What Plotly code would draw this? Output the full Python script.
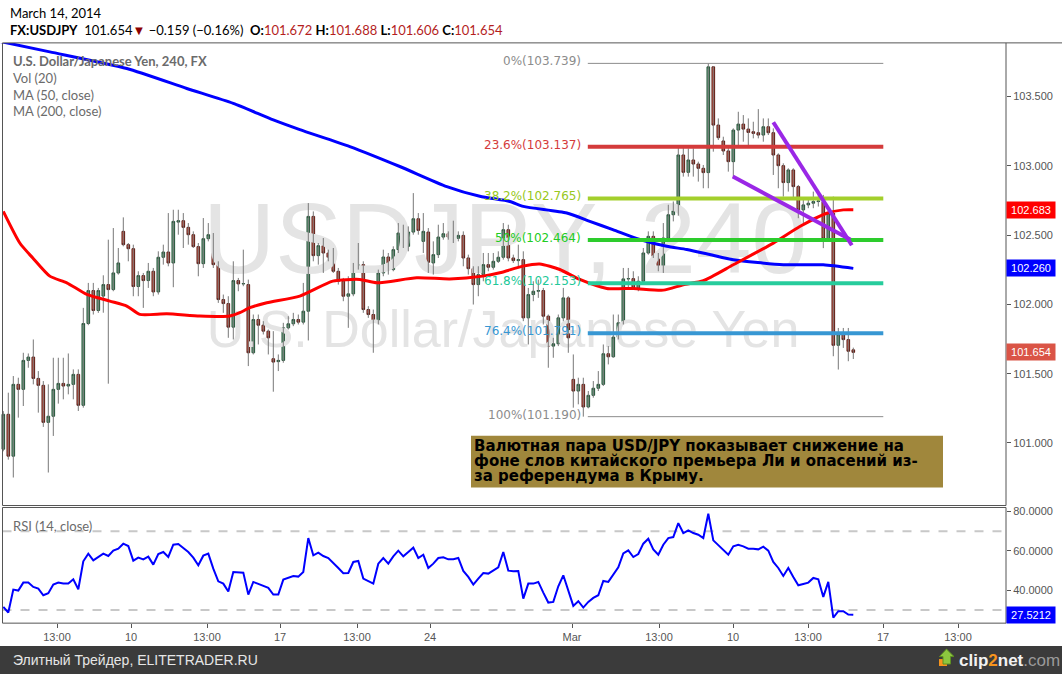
import plotly.graph_objects as go

W, H = 1062, 674

# USDJPY 4h candles (bar 0 = first visible candle)
opens = [
    100.955, 101.207, 100.905, 101.423, 101.387, 101.596, 101.620, 101.466, 101.416, 101.149,
    101.193, 101.387, 101.430, 101.411, 101.423, 101.495, 101.272, 101.862, 102.100, 101.956,
    102.060, 102.143, 102.107, 102.227, 102.527, 102.431, 102.402, 102.129, 102.208, 102.172,
    102.239, 102.090, 102.340, 102.378, 102.299, 102.594, 102.604, 102.556, 102.503, 102.417,
    102.294, 102.474, 102.503, 102.287, 102.035, 102.006, 101.836, 102.172, 102.148, 102.143,
    101.651, 101.891, 101.850, 101.807, 101.608, 101.587, 101.596, 101.831, 101.860, 101.891,
    101.872, 101.951, 102.635, 102.352, 102.424, 102.371, 102.340, 102.239, 102.167, 102.059,
    102.076, 102.263, 102.287, 101.963, 101.927, 101.872, 102.227, 102.342, 102.251, 102.395,
    102.515, 102.419, 102.522, 102.618, 102.455, 102.522, 102.299, 102.359, 102.486, 102.510,
    102.486, 102.477, 102.498, 102.335, 102.258, 102.143, 102.215, 102.287, 102.268, 102.311,
    102.340, 102.539, 102.335, 102.316, 102.323, 101.903, 102.071, 102.095, 102.100, 101.915,
    101.699, 101.716, 101.903, 102.047, 101.459, 101.375, 101.423, 101.260, 101.344, 101.395,
    101.423, 101.644, 101.622, 101.764, 101.867, 102.184, 102.186, 102.119, 102.167, 102.371,
    102.491, 102.347, 102.275, 102.479, 102.647, 102.676, 103.078, 102.953, 103.042, 103.013,
    102.982, 102.951, 103.714, 103.294, 103.179, 103.107, 103.030, 103.258, 103.301, 103.265,
    103.246, 103.239, 103.222, 103.282, 103.239, 103.078, 103.001, 102.879, 102.970, 102.850,
    102.682, 102.718, 102.730, 102.742, 102.742, 102.473, 102.658, 101.705, 101.782, 101.746,
    101.672,
]
highs = [
    101.230, 101.363, 101.483, 101.471, 101.651, 101.646, 101.747, 101.519, 101.447, 101.423,
    101.615, 101.615, 101.615, 101.646, 101.531, 101.531, 101.975, 102.155, 102.155, 102.119,
    102.210, 102.467, 102.551, 102.407, 102.628, 102.443, 102.431, 102.239, 102.227, 102.299,
    102.263, 102.383, 102.431, 102.659, 102.683, 102.683, 102.659, 102.587, 102.527, 102.443,
    102.623, 102.587, 102.515, 102.311, 102.071, 102.059, 102.311, 102.191, 102.395, 102.179,
    101.927, 101.927, 101.879, 101.819, 101.807, 101.639, 101.867, 101.915, 101.939, 101.927,
    102.155, 102.731, 102.671, 102.443, 102.479, 102.395, 102.407, 102.263, 102.191, 102.203,
    102.299, 102.443, 102.311, 101.987, 101.963, 102.251, 102.395, 102.371, 102.419, 102.587,
    102.575, 102.563, 102.803, 102.659, 102.659, 102.551, 102.455, 102.575, 102.587, 102.527,
    102.604, 102.527, 102.527, 102.359, 102.275, 102.275, 102.371, 102.371, 102.371, 102.383,
    102.587, 102.575, 102.359, 102.431, 102.383, 102.119, 102.167, 102.179, 102.119, 101.927,
    101.759, 101.927, 102.119, 102.059, 101.639, 101.471, 101.471, 101.375, 101.447, 101.519,
    101.711, 101.699, 101.927, 101.927, 102.263, 102.263, 102.239, 102.203, 102.407, 102.527,
    102.527, 102.371, 102.587, 102.719, 102.743, 103.150, 103.150, 103.126, 103.126, 103.030,
    103.006, 103.739, 103.720, 103.342, 103.210, 103.138, 103.270, 103.390, 103.366, 103.342,
    103.318, 103.409, 103.342, 103.342, 103.270, 103.090, 103.018, 102.982, 102.982, 102.862,
    102.766, 102.754, 102.814, 102.790, 102.790, 102.682, 102.778, 101.830, 101.830, 101.830,
    101.688,
]
lows = [
    100.940, 100.880, 100.751, 101.183, 101.267, 101.543, 101.423, 101.219, 101.116, 100.787,
    101.051, 101.284, 101.315, 101.351, 101.315, 101.231, 101.255, 101.850, 101.927, 101.939,
    101.940, 101.428, 102.095, 102.215, 102.419, 102.311, 102.059, 102.059, 101.975, 102.119,
    102.059, 102.071, 102.287, 102.275, 102.124, 102.503, 102.407, 102.431, 102.407, 102.203,
    102.263, 102.455, 102.263, 102.011, 101.939, 101.759, 101.747, 102.095, 102.131, 101.555,
    101.639, 101.711, 101.783, 101.639, 101.370, 101.519, 101.579, 101.819, 101.843, 101.855,
    101.855, 101.740, 102.311, 102.287, 102.227, 102.311, 102.227, 102.143, 102.023, 101.831,
    102.059, 102.251, 101.939, 101.903, 101.651, 101.855, 102.203, 102.215, 102.239, 102.371,
    102.407, 102.383, 102.503, 102.503, 102.371, 102.227, 102.215, 102.335, 102.467, 102.467,
    102.443, 102.455, 102.275, 102.215, 101.999, 102.059, 102.167, 102.239, 102.251, 102.299,
    102.323, 102.311, 102.299, 102.263, 101.879, 101.711, 102.023, 102.047, 101.855, 101.543,
    101.615, 101.699, 101.879, 101.651, 101.255, 101.279, 101.190, 101.250, 101.327, 101.375,
    101.411, 101.567, 101.615, 101.747, 101.855, 102.119, 102.107, 102.095, 102.155, 102.359,
    102.335, 102.239, 102.227, 102.455, 102.599, 102.640, 102.922, 102.922, 102.922, 102.886,
    102.838, 102.838, 103.102, 103.186, 103.078, 102.958, 102.910, 103.150, 103.174, 103.150,
    103.198, 103.198, 103.174, 103.222, 102.934, 102.838, 102.778, 102.814, 102.766, 102.622,
    102.574, 102.694, 102.694, 102.706, 102.406, 102.454, 101.626, 101.530, 101.686, 101.590,
    101.606,
]
closes = [
    101.207, 100.905, 101.423, 101.387, 101.596, 101.620, 101.466, 101.416, 101.149, 101.193,
    101.387, 101.430, 101.411, 101.423, 101.495, 101.272, 101.862, 102.100, 101.956, 102.100,
    102.143, 102.107, 102.227, 102.299, 102.431, 102.402, 102.129, 102.208, 102.172, 102.239,
    102.090, 102.340, 102.378, 102.299, 102.599, 102.604, 102.556, 102.503, 102.417, 102.294,
    102.474, 102.503, 102.287, 102.035, 102.006, 101.836, 102.172, 102.148, 102.150, 101.651,
    101.891, 101.850, 101.807, 101.759, 101.584, 101.596, 101.831, 101.860, 101.891, 101.872,
    101.951, 102.635, 102.352, 102.424, 102.371, 102.340, 102.239, 102.167, 102.059, 102.076,
    102.263, 102.287, 101.963, 101.927, 101.872, 102.227, 102.342, 102.251, 102.395, 102.515,
    102.419, 102.522, 102.618, 102.534, 102.527, 102.304, 102.359, 102.486, 102.510, 102.486,
    102.477, 102.498, 102.335, 102.258, 102.143, 102.215, 102.287, 102.268, 102.311, 102.340,
    102.539, 102.335, 102.316, 102.323, 101.903, 102.071, 102.095, 102.100, 101.915, 101.699,
    101.716, 101.903, 102.047, 101.759, 101.375, 101.423, 101.260, 101.344, 101.395, 101.423,
    101.644, 101.622, 101.764, 101.867, 102.184, 102.186, 102.119, 102.167, 102.371, 102.491,
    102.347, 102.275, 102.479, 102.647, 102.676, 103.078, 102.953, 103.042, 103.013, 102.982,
    102.951, 103.714, 103.294, 103.203, 103.107, 103.030, 103.258, 103.301, 103.265, 103.241,
    103.234, 103.222, 103.282, 103.239, 103.078, 103.001, 102.879, 102.970, 102.850, 102.682,
    102.718, 102.730, 102.742, 102.746, 102.473, 102.658, 101.705, 101.782, 101.746, 101.662,
    101.654,
]

# moving averages (bar position, value)
ma50_bar = [0, 3.3, 5.9, 9.3, 12.7, 16.7, 21.3, 24.7, 27.3, 32.7, 39.3, 45.3, 47.3, 49.3,
            52.7, 59.3, 65.9, 71.3, 74.7, 82.7, 89.3, 95.9, 99.3, 103.9, 107.3, 111.3,
            115.3, 120.7, 126.0, 132.0, 136.0, 140.0, 146.0, 154.0, 159.3, 164.7, 168.0, 170.0]
ma50_val = [102.671, 102.443, 102.335, 102.204, 102.156, 102.072, 102.024, 101.988, 101.928,
            101.932, 101.916, 101.916, 101.940, 101.976, 102.012, 102.060, 102.168, 102.180,
            102.156, 102.192, 102.184, 102.204, 102.228, 102.276, 102.292, 102.252, 102.180,
            102.115, 102.115, 102.103, 102.142, 102.171, 102.286, 102.442, 102.562, 102.658,
            102.682, 102.683]
ma200_bar = [-1, 9.3, 24.7, 36.7, 46.0, 54.0, 59.3, 69.3, 79.3, 88.7, 95.3, 101.3, 104.0,
             112.7, 117.3, 121.9, 127.3, 132.7, 136.7, 141.3, 146.0, 156.0, 164.0, 170.0]
ma200_val = [103.900, 103.822, 103.702, 103.558, 103.450, 103.331, 103.261, 103.139, 102.995,
             102.850, 102.780, 102.743, 102.707, 102.659, 102.599, 102.540, 102.468, 102.419,
             102.396, 102.360, 102.322, 102.286, 102.286, 102.260]

rsi = [
    31.56, 28.69, 40.33, 39.83, 43.88, 43.88, 41.68, 40.84, 37.46, 38.48,
    42.87, 43.88, 43.37, 43.37, 45.57, 40.50, 54.68, 58.56, 55.19, 56.71,
    58.56, 57.38, 60.08, 61.10, 63.63, 62.45, 55.02, 56.54, 55.69, 57.04,
    52.99, 58.40, 59.41, 56.88, 63.12, 63.46, 61.60, 59.41, 56.54, 52.66,
    57.55, 58.56, 50.97, 44.55, 43.37, 39.32, 49.28, 49.11, 48.94, 37.80,
    44.22, 43.20, 42.19, 41.18, 37.80, 37.80, 45.40, 46.24, 47.25, 46.92,
    49.28, 66.50, 57.72, 59.07, 57.38, 56.37, 54.01, 51.31, 48.60, 48.77,
    54.34, 54.85, 45.90, 44.72, 43.37, 53.50, 56.37, 53.50, 57.21, 60.08,
    57.21, 59.41, 61.60, 56.37, 58.06, 51.31, 53.50, 56.37, 56.71, 55.69,
    55.69, 56.37, 49.79, 46.75, 42.87, 45.90, 48.77, 48.44, 50.12, 51.64,
    59.41, 49.96, 49.62, 49.79, 35.78, 43.37, 43.37, 44.22, 38.81, 33.75,
    34.09, 42.02, 47.59, 39.49, 32.06, 34.43, 31.22, 34.09, 36.11, 37.46,
    44.72, 44.22, 48.10, 51.64, 58.73, 60.25, 56.88, 58.40, 63.63, 66.16,
    60.76, 58.06, 63.12, 66.50, 67.00, 74.09, 69.03, 70.38, 69.03, 68.19,
    66.50, 78.82, 65.32, 62.78, 60.25, 58.06, 62.28, 63.12, 62.28, 61.10,
    61.10, 60.76, 62.11, 60.08, 54.34, 51.31, 47.25, 51.31, 46.75, 42.53,
    43.20, 43.88, 46.24, 45.57, 36.62, 44.22, 26.15, 29.36, 29.36, 27.67,
    27.5212,
]

# Fibonacci retracement drawn on the chart
fib_pct = ["0%", "23.6%", "38.2%", "50%", "61.8%", "76.4%", "100%"]
fib_lvl = [103.739, 103.137, 102.765, 102.464, 102.153, 101.791, 101.190]
fib_start, fib_end = 116.9, 176.0

# purple trend lines (bar, price)
trend_bar = [[154.0, 169.7], [145.9, 169.4]]
trend_val = [[103.314, 102.427], [102.923, 102.468]]

time_ticks = [10.74, 25.54, 40.74, 55.34, 70.74, 85.34, 113.74, 131.14, 145.94, 160.94, 175.94, 190.94]
time_labels = ["13:00", "10", "13:00", "17", "13:00", "24", "Mar", "13:00", "10", "13:00", "17", "13:00"]

price_ticks = [101.0, 101.5, 102.0, 102.5, 103.0, 103.5]
rsi_ticks = [40, 60, 80]

# ---- layout helpers (pixel -> paper) ----
PLOT_R = 1006
TOP, PB, RT, RB = 41, 505, 507, 623
X0, X1 = -0.66, 200.54
P0, P1 = 100.549, 103.887
R0, R1 = 23.3, 82.0


def px(x):
    return x / W


def py(y):
    return 1 - y / H


def bar_at(xp):
    return X0 + xp / PLOT_R * (X1 - X0)


def price_at(yp):
    return P1 - (yp - TOP) / (PB - TOP) * (P1 - P0)


fib_col = ["#8c8c8c", "#d43b3b", "#a3cf2c", "#2dcc2d", "#27cc9c", "#3797d3", "#8c8c8c"]
fib_txt = ["#8c8c8c", "#d43b3b", "#98c820", "#22cc22", "#22c898", "#3797d3", "#8c8c8c"]
GREY = "#555555"

bars = list(range(len(closes)))
body_hi = [max(o, c) for o, c in zip(opens, closes)]
body_lo = [min(o, c) for o, c in zip(opens, closes)]
wick_x, wick_y = [], []
for i, (h, l) in enumerate(zip(highs, lows)):
    wick_x += [i, i, None]
    wick_y += [l, h, None]

fig = go.Figure()

# watermark (under the candles)
fig.add_trace(go.Scatter(
    x=[bar_at(505), bar_at(503)], y=[price_at(247), price_at(333)],
    mode="text", text=["USDJPY, 240", "U.S. Dollar/Japanese Yen"],
    textfont=dict(family="Liberation Sans", size=[100, 52], color="#e4e4e4"),
    textposition="middle center", hoverinfo="skip",
))

fig.add_trace(go.Scatter(
    x=wick_x, y=wick_y, mode="lines",
    line=dict(color="#777777", width=1), hoverinfo="skip",
))
fig.add_trace(go.Candlestick(
    x=bars, open=opens, high=body_hi, low=body_lo, close=closes,
    increasing=dict(fillcolor="#6ba583", line=dict(color="#225437", width=1)),
    decreasing=dict(fillcolor="#d75442", line=dict(color="#5b1a13", width=1)),
    whiskerwidth=0, hoverinfo="skip",
))
fig.add_trace(go.Scatter(
    x=ma200_bar, y=ma200_val, mode="lines",
    line=dict(color="#0000ff", width=3, shape="spline", smoothing=0.6),
))
fig.add_trace(go.Scatter(
    x=ma50_bar, y=ma50_val, mode="lines",
    line=dict(color="#ff0000", width=3, shape="spline", smoothing=0.6),
))
fig.add_trace(go.Scatter(
    x=bars, y=rsi, mode="lines", xaxis="x2", yaxis="y2",
    line=dict(color="#0000ff", width=2),
))

shapes = []
# panel frames
for y0, y1 in [(TOP, PB), (RT, RB)]:
    shapes.append(dict(type="rect", xref="paper", yref="paper",
                       x0=px(2.5), x1=px(PLOT_R), y0=py(y1), y1=py(y0),
                       line=dict(color=GREY, width=1), layer="above"))
shapes.append(dict(type="line", xref="paper", yref="paper", x0=px(PLOT_R), x1=1,
                   y0=py(TOP), y1=py(TOP), line=dict(color=GREY, width=1)))
# RSI bands
for lv in [70, 30]:
    shapes.append(dict(type="line", xref="paper", yref="y2", x0=px(2.5), x1=px(PLOT_R),
                       y0=lv, y1=lv, line=dict(color="#c8c8c8", width=2, dash="dash"),
                       layer="below"))
# fibonacci lines
for lv, col in zip(fib_lvl, fib_col):
    thin = col == "#8c8c8c"
    shapes.append(dict(type="line", xref="x", yref="y", x0=fib_start, x1=fib_end,
                       y0=lv, y1=lv, line=dict(color=col, width=1 if thin else 4)))
# trend lines
for bx, bv in zip(trend_bar, trend_val):
    shapes.append(dict(type="line", xref="x", yref="y", x0=bx[0], x1=bx[1],
                       y0=bv[0], y1=bv[1], line=dict(color="#9a27e6", width=4)))
# comment box
shapes.append(dict(type="rect", xref="paper", yref="paper", x0=px(471), x1=px(943),
                   y0=py(487), y1=py(435), fillcolor="#a0873c", line=dict(width=0)))
# footer
shapes.append(dict(type="rect", xref="paper", yref="paper", x0=0, x1=1,
                   y0=0, y1=py(646), fillcolor="#3b3b3b", line=dict(width=0)))
# clip2net icon
shapes.append(dict(type="rect", xref="paper", yref="paper", x0=px(939), x1=px(947),
                   y0=py(666), y1=py(659), fillcolor="#f7941d", line=dict(width=0)))
arrow = [(946.5, 649), (954, 656.5), (950.5, 656.5), (950.5, 664), (943, 664), (943, 656.5), (939.5, 656.5)]
shapes.append(dict(type="path", xref="paper", yref="paper",
                   path="M " + " L ".join(f"{px(a):.5f},{py(b):.5f}" for a, b in arrow) + " Z",
                   fillcolor="#8dc63f", line=dict(color="#5e8f22", width=1)))

ann = []
red = "#b41e1e"
ann.append(dict(text="March 14, 2014", x=px(8), y=py(11), xanchor="left", yanchor="middle",
                font=dict(family="Lato", size=13, color="#000")))
hdr = (f"<b>FX:USDJPY</b>  {closes[-1]:.3f}<span style='color:#8b0000'>▼</span> "
       f"−0.159 (−0.16%)  "
       f"<b>O:</b><span style='color:{red}'>{opens[-1]:.3f}</span> "
       f"<b>H:</b><span style='color:{red}'>{highs[-1]:.3f}</span> "
       f"<b>L:</b><span style='color:{red}'>{lows[-1]:.3f}</span> "
       f"<b>C:</b><span style='color:{red}'>{closes[-1]:.3f}</span>")
ann.append(dict(text=hdr, x=px(8), y=py(28), xanchor="left", yanchor="middle",
                font=dict(family="Lato", size=13, color="#000")))
legend_rows = [("<b>U.S. Dollar/Japanese Yen, 240, FX</b>", 59), ("Vol (20)", 76),
               ("MA (50, close)", 93), ("MA (200, close)", 109), ("RSI (14, close)", 526)]
for txt, yy in legend_rows:
    ann.append(dict(text=txt, x=px(11), y=py(yy), xanchor="left", yanchor="middle",
                    font=dict(family="Lato", size=13, color="#6b6b6b")))

for pct, lv, col in zip(fib_pct, fib_lvl, fib_txt):
    ann.append(dict(text=f"{pct}({lv:.3f})", xref="x", yref="y", x=fib_start, y=lv,
                    xanchor="right", yanchor="middle", xshift=-5, yshift=2,
                    font=dict(family="DejaVu Sans", size=12, color=col)))

box_lines = ["Валютная пара USD/JPY показывает снижение на",
             "фоне слов китайского премьера Ли и опасений из-",
             "за референдума в Крыму."]
for txt, yy in zip(box_lines, [445, 460, 475]):
    ann.append(dict(text=f"<b>{txt}</b>", x=px(472), y=py(yy), xanchor="left", yanchor="middle",
                    font=dict(family="DejaVu Sans", size=15, color="#000")))

# right-axis value tags
tags = [(ma50_val[-1], "#ff0000", "y", f"{ma50_val[-1]:.3f}"),
        (ma200_val[-1], "#0000ff", "y", f"{ma200_val[-1]:.3f}"),
        (closes[-1], "#da5446", "y", f"{closes[-1]:.3f}"),
        (rsi[-1], "#0000ff", "y2", f"{rsi[-1]:.4f}")]
for val, col, yr, txt in tags:
    ann.append(dict(text=txt, x=px(PLOT_R), xanchor="left", yref=yr, y=val, yanchor="middle",
                    bgcolor=col, width=46, height=14, borderpad=1, align="center",
                    font=dict(family="Liberation Sans", size=11, color="#fff")))

ann.append(dict(text="Элитный Трейдер, ELITETRADER.RU", x=px(11), y=py(660), xanchor="left",
                yanchor="middle", font=dict(family="Liberation Sans", size=14, color="#e6e6e6")))
ann.append(dict(text="<b>clip</b><b><span style='color:#f7941d'>2</span></b><b>net</b>"
                     "<span style='color:#9a9a9a'>.com</span>",
                x=px(957), y=py(660), xanchor="left", yanchor="middle",
                font=dict(family="Liberation Sans", size=17, color="#f2f2f2")))

for a in ann:
    a.setdefault("xref", "paper")
    a.setdefault("yref", "paper")
    a["showarrow"] = False

tick_font = dict(family="Liberation Sans", size=11, color="#555")
fig.update_layout(
    width=W, height=H, margin=dict(l=0, r=0, t=0, b=0),
    paper_bgcolor="#fff", plot_bgcolor="#fff", showlegend=False,
    boxgap=0.25, shapes=shapes, annotations=ann,
    xaxis=dict(domain=[0, px(PLOT_R)], range=[X0, X1], showticklabels=False,
               showgrid=False, zeroline=False, rangeslider=dict(visible=False), anchor="y"),
    yaxis=dict(domain=[py(PB), py(TOP)], range=[P0, P1], side="right", anchor="x",
               tickvals=price_ticks, tickformat=".3f", ticks="outside", ticklen=4,
               tickcolor=GREY, showgrid=False, zeroline=False, tickfont=tick_font),
    xaxis2=dict(domain=[0, px(PLOT_R)], range=[X0, X1], anchor="y2",
                tickvals=time_ticks, ticktext=time_labels, ticks="outside", ticklen=4,
                tickcolor=GREY, showgrid=False, zeroline=False, tickfont=tick_font),
    yaxis2=dict(domain=[py(RB), py(RT)], range=[R0, R1], side="right", anchor="x2",
                tickvals=rsi_ticks, tickformat=".4f", ticks="outside", ticklen=4,
                tickcolor=GREY, showgrid=False, zeroline=False, tickfont=tick_font),
)

# drop the default page margin so the 1062x674 figure fills the window exactly
fig.write_html("out.html", config={"displayModeBar": False},
               post_script="document.body.style.margin='0';document.body.style.overflow='hidden';")
